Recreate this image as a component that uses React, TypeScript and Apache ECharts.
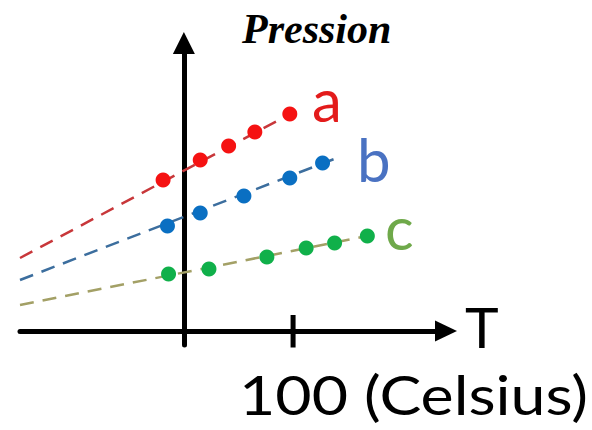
import React, { useEffect, useRef } from 'react';
import * as echarts from 'echarts';

// Series names / labels
const seriesNames = ['a', 'b', 'c'];
// Measured points (temperature °C, pressure arbitrary units)
const tempA = [-19, 15, 41, 65, 97];
const presA = [151, 171, 185, 199, 217];
const tempB = [-15, 15, 55, 97, 127];
const presB = [105, 118, 135, 153, 168];
const tempC = [-14, 23, 76, 112, 138, 168];
const presC = [57, 62, 74, 83, 88, 95];
// Dashed trend lines (start / end)
const trendTempA = [-150, 106];
const trendPresA = [73, 222];
const trendTempB = [-150, 140];
const trendPresB = [51, 173];
const trendTempC = [-150, 168];
const trendPresC = [26, 95];
// Axis texts
const xTickValues = [100];
const xTickLabel = '100 (Celsius)';
const xAxisName = 'T';
const yAxisName = 'Pression';

const pointColors = ['#f51212', '#0a6fc2', '#10b04a'];
const lineColors = ['#c8373a', '#3c6e9e', '#a3a066'];
const labelColors = ['#e31b1b', '#4a72c2', '#6fa94a'];

const zip = (xs: number[], ys: number[]) => xs.map((x, i) => [x, ys[i]]);

export default function App() {
  const ref = useRef<HTMLDivElement>(null);
  useEffect(() => {
    if (!ref.current) return;
    const chart = echarts.init(ref.current, null, { renderer: 'svg' });
    const temps = [tempA, tempB, tempC];
    const press = [presA, presB, presC];
    const trendT = [trendTempA, trendTempB, trendTempC];
    const trendP = [trendPresA, trendPresB, trendPresC];
    const series: any[] = [];
    seriesNames.forEach((name, i) => {
      series.push({
        name: name + '-trend',
        type: 'line',
        data: zip(trendT[i], trendP[i]),
        showSymbol: false,
        lineStyle: { color: lineColors[i], width: 2.5, type: [14, 9] },
        z: 2,
      });
      series.push({
        name,
        type: 'scatter',
        data: zip(temps[i], press[i]),
        symbolSize: 15,
        itemStyle: { color: pointColors[i], opacity: 1 },
        z: 4,
      });
    });
    series.push({
      name: 'tick',
      type: 'line',
      data: xTickValues.flatMap((v) => [[v, -17], [v, 16]]),
      showSymbol: false,
      lineStyle: { color: '#000', width: 5 },
      z: 3,
    });
    const latoFont = (size: number) => `${size}px Lato, "Open Sans", sans-serif`;
    chart.setOption({
      animation: false,
      backgroundColor: '#fff',
      grid: { left: 20, right: 146, top: 43, bottom: 85, outerBoundsMode: 'none' },
      xAxis: {
        type: 'value',
        min: -150,
        max: 240,
        axisLine: {
          onZero: true,
          symbol: ['none', 'triangle'],
          symbolSize: [21, 22],
          lineStyle: { color: '#000', width: 5 },
        },
        axisTick: { show: false },
        axisLabel: { show: false },
        splitLine: { show: false },
      },
      yAxis: {
        type: 'value',
        min: -14,
        max: 288,
        axisLine: {
          onZero: true,
          symbol: ['none', 'triangle'],
          symbolSize: [22, 22],
          lineStyle: { color: '#000', width: 5 },
        },
        axisTick: { show: false },
        axisLabel: { show: false },
        splitLine: { show: false },
      },
      graphic: [
        {
          type: 'text', left: 242, top: 8, z: 10,
          style: { text: yAxisName, font: 'italic bold 42px "Liberation Serif", "Times New Roman", serif', fill: '#000' },
        },
        {
          type: 'text', left: 465, top: 297, z: 10,
          style: { text: xAxisName, font: latoFont(57), fill: '#000' },
        },
        {
          type: 'text', x: 239, y: 367, scaleX: 1.16, z: 10,
          style: { text: xTickLabel, font: latoFont(54), fill: '#000' },
        },
        {
          type: 'text', left: 312, top: 69, z: 10,
          style: { text: seriesNames[0], font: latoFont(60), fill: labelColors[0] },
        },
        {
          type: 'text', left: 357, top: 129, z: 10,
          style: { text: seriesNames[1], font: latoFont(60), fill: labelColors[1] },
        },
        {
          type: 'text', left: 385, top: 197, z: 10,
          style: { text: seriesNames[2], font: latoFont(60), fill: labelColors[2] },
        },
      ],
      series,
    });
    return () => chart.dispose();
  }, []);
  return (
    <div
      ref={ref}
      style={{ position: 'fixed', left: 0, top: 0, width: 592, height: 430, background: '#fff' }}
    />
  );
}
